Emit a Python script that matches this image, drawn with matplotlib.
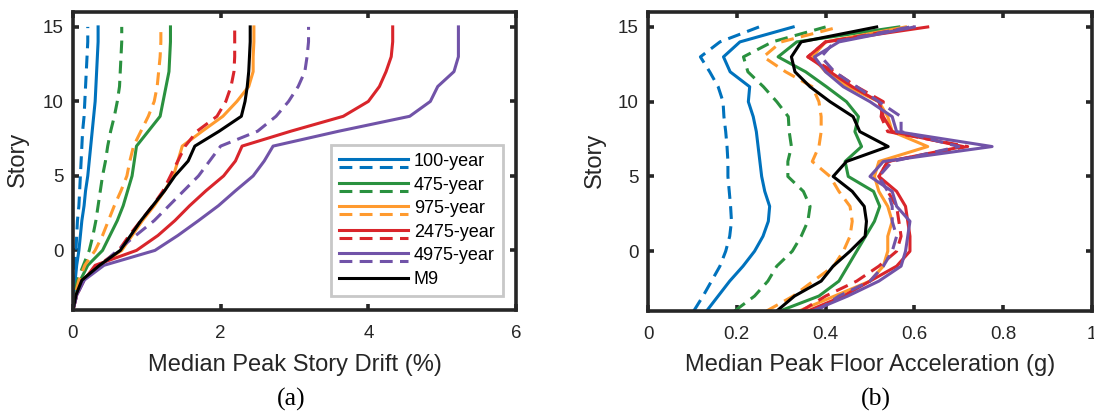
import numpy as np
import matplotlib
matplotlib.use("Agg")
import matplotlib.pyplot as plt
from matplotlib.lines import Line2D
from matplotlib.legend_handler import HandlerBase

# story levels (4 basement levels below grade)
stories = np.arange(-4, 16)

# (a) median peak story drift (%) - solid / dashed per hazard level
drift_100 = [0, 0.01, 0.03, 0.05, 0.08, 0.10, 0.12, 0.15, 0.17, 0.20, 0.22, 0.24, 0.26, 0.28, 0.30, 0.31, 0.32, 0.33, 0.34, 0.34]
drift_100_d = [0, 0.005, 0.01, 0.02, 0.04, 0.05, 0.06, 0.08, 0.09, 0.10, 0.11, 0.12, 0.13, 0.15, 0.16, 0.17, 0.18, 0.19, 0.20, 0.20]
drift_475 = [0, 0.04, 0.10, 0.20, 0.40, 0.50, 0.60, 0.68, 0.74, 0.80, 0.83, 0.86, 1.02, 1.18, 1.22, 1.26, 1.30, 1.31, 1.32, 1.32]
drift_475_d = [0, 0.02, 0.06, 0.14, 0.22, 0.27, 0.31, 0.34, 0.37, 0.40, 0.44, 0.47, 0.51, 0.56, 0.60, 0.63, 0.64, 0.65, 0.66, 0.66]
drift_975 = [0, 0.04, 0.12, 0.36, 0.66, 0.80, 0.94, 1.10, 1.24, 1.36, 1.42, 1.48, 1.75, 2.03, 2.22, 2.38, 2.44, 2.44, 2.45, 2.45]
drift_975_d = [0, 0.03, 0.08, 0.16, 0.30, 0.40, 0.48, 0.56, 0.65, 0.73, 0.77, 0.82, 0.92, 1.02, 1.10, 1.14, 1.16, 1.18, 1.19, 1.19]
drift_2475 = [0, 0.05, 0.15, 0.30, 0.86, 1.15, 1.38, 1.58, 1.80, 2.04, 2.20, 2.29, 2.95, 3.66, 4.00, 4.15, 4.24, 4.31, 4.33, 4.33]
drift_2475_d = [0, 0.05, 0.14, 0.35, 0.62, 0.76, 0.92, 1.08, 1.22, 1.32, 1.42, 1.52, 1.68, 1.95, 2.07, 2.14, 2.18, 2.19, 2.19, 2.19]
drift_4975 = [0, 0.05, 0.15, 0.42, 1.11, 1.42, 1.70, 1.97, 2.20, 2.44, 2.59, 2.71, 3.60, 4.56, 4.84, 4.94, 5.16, 5.22, 5.22, 5.22]
drift_4975_d = [0, 0.05, 0.15, 0.38, 0.60, 0.85, 1.10, 1.30, 1.50, 1.70, 1.85, 2.00, 2.50, 2.75, 2.92, 3.05, 3.14, 3.17, 3.19, 3.19]
drift_m9 = [0, 0.04, 0.12, 0.36, 0.64, 0.78, 0.92, 1.08, 1.24, 1.38, 1.56, 1.65, 1.98, 2.28, 2.33, 2.36, 2.38, 2.39, 2.40, 2.40]

# (b) median peak floor acceleration (g)
pfa_100 = [0.132, 0.158, 0.184, 0.214, 0.240, 0.259, 0.271, 0.274, 0.263, 0.256, 0.252, 0.248, 0.244, 0.237, 0.226, 0.229, 0.185, 0.170, 0.207, 0.327]
pfa_100_d = [0.103, 0.124, 0.143, 0.162, 0.175, 0.184, 0.188, 0.186, 0.183, 0.180, 0.180, 0.178, 0.175, 0.171, 0.169, 0.158, 0.139, 0.118, 0.162, 0.250]
pfa_475 = [0.297, 0.385, 0.430, 0.450, 0.470, 0.490, 0.510, 0.522, 0.508, 0.451, 0.444, 0.481, 0.466, 0.474, 0.447, 0.402, 0.355, 0.293, 0.335, 0.565]
pfa_475_d = [0.195, 0.240, 0.270, 0.290, 0.325, 0.345, 0.360, 0.365, 0.350, 0.315, 0.315, 0.323, 0.318, 0.316, 0.290, 0.260, 0.225, 0.215, 0.280, 0.400]
pfa_975 = [0.340, 0.420, 0.500, 0.530, 0.540, 0.540, 0.550, 0.540, 0.520, 0.510, 0.520, 0.630, 0.550, 0.540, 0.520, 0.450, 0.400, 0.370, 0.400, 0.580]
pfa_975_d = [0.267, 0.327, 0.372, 0.418, 0.440, 0.455, 0.460, 0.455, 0.430, 0.410, 0.370, 0.385, 0.390, 0.390, 0.385, 0.370, 0.310, 0.260, 0.300, 0.430]
pfa_2475 = [0.360, 0.440, 0.500, 0.560, 0.590, 0.590, 0.585, 0.580, 0.560, 0.520, 0.540, 0.710, 0.550, 0.530, 0.520, 0.460, 0.410, 0.360, 0.400, 0.630]
pfa_2475_d = [0.345, 0.400, 0.470, 0.520, 0.560, 0.570, 0.565, 0.560, 0.540, 0.520, 0.540, 0.720, 0.540, 0.525, 0.530, 0.470, 0.420, 0.360, 0.400, 0.600]
pfa_4975 = [0.370, 0.450, 0.520, 0.570, 0.580, 0.585, 0.590, 0.560, 0.550, 0.500, 0.530, 0.775, 0.560, 0.550, 0.500, 0.440, 0.400, 0.375, 0.430, 0.600]
pfa_4975_d = [0.380, 0.430, 0.500, 0.530, 0.550, 0.560, 0.550, 0.550, 0.540, 0.520, 0.550, 0.700, 0.570, 0.570, 0.520, 0.470, 0.420, 0.390, 0.420, 0.590]
pfa_m9 = [0.290, 0.330, 0.390, 0.417, 0.455, 0.489, 0.492, 0.487, 0.460, 0.417, 0.447, 0.541, 0.477, 0.462, 0.410, 0.365, 0.331, 0.323, 0.345, 0.515]

labels = ["100-year", "475-year", "975-year", "2475-year", "4975-year"]
colors = ["#0072BD", "#2A913F", "#FF9A2E", "#D9252B", "#7153A8"]

drift_solid = [drift_100, drift_475, drift_975, drift_2475, drift_4975]
drift_dash = [drift_100_d, drift_475_d, drift_975_d, drift_2475_d, drift_4975_d]
pfa_solid = [pfa_100, pfa_475, pfa_975, pfa_2475, pfa_4975]
pfa_dash = [pfa_100_d, pfa_475_d, pfa_975_d, pfa_2475_d, pfa_4975_d]

LW = 2.2
DASH = (4.2, 2.4)

plt.rcParams["font.family"] = ["Liberation Sans", "DejaVu Sans"]


class SolidDashHandler(HandlerBase):
    # solid line on top, dashed line underneath, same colour
    def create_artists(self, legend, orig_handle, xdescent, ydescent, width, height, fontsize, trans):
        c = orig_handle[0].get_color()
        y1 = height * 0.5 - ydescent + 0.5
        y2 = y1 - 5.6
        l1 = Line2D([-xdescent, width - xdescent], [y1, y1], color=c, lw=LW)
        l2 = Line2D([-xdescent, width - xdescent], [y2, y2], color=c, lw=LW, dashes=DASH)
        l1.set_transform(trans)
        l2.set_transform(trans)
        return [l1, l2]


def style_axes(ax):
    for s in ax.spines.values():
        s.set_linewidth(2.6)
        s.set_color("#262626")
    ax.tick_params(direction="in", length=4, width=2.6, color="#262626",
                   labelsize=13.5, top=True, right=True, labelcolor="#262626")
    ax.tick_params(axis="x", pad=11)
    ax.tick_params(axis="y", pad=7)
    ax.set_ylim(-4, 16)
    ax.set_yticks([0, 5, 10, 15])


fig = plt.figure(figsize=(10.94, 4.12), dpi=100)
ax1 = fig.add_axes([73 / 1094, 1 - 310 / 412, 443 / 1094, 298 / 412])
ax2 = fig.add_axes([648 / 1094, 1 - 311 / 412, 444 / 1094, 299 / 412])

# (a) drift
handles = []
for c, s, d, lab in zip(colors, drift_solid, drift_dash, labels):
    h1, = ax1.plot(s, stories, color=c, lw=LW)
    h2, = ax1.plot(d, stories, color=c, lw=LW, dashes=DASH)
    handles.append((h1, h2))
hm9, = ax1.plot(drift_m9, stories, color="black", lw=LW)
style_axes(ax1)
ax1.set_xlim(0, 6)
ax1.set_xticks([0, 2, 4, 6])
ax1.set_xlabel("Median Peak Story Drift (%)", fontsize=17, va="center", color="#262626")
ax1.xaxis.set_label_coords(0.5, (310 - 365) / 298)
ax1.set_ylabel("Story", fontsize=17, va="center", color="#262626")
ax1.yaxis.set_label_coords((18 - 73) / 443, 0.505)

leg = ax1.legend(handles + [hm9], labels + ["M9"],
                 handler_map={tuple: SolidDashHandler()},
                 loc="lower left", bbox_to_anchor=(0.582, 0.047),
                 fontsize=13, handlelength=3.8, handletextpad=0.35,
                 labelspacing=0.36, borderpad=0.45, borderaxespad=0,
                 fancybox=False, framealpha=1)
leg.get_frame().set_edgecolor("#C8C8C8")
leg.get_frame().set_linewidth(2.0)

# (b) floor acceleration
for c, s, d in zip(colors, pfa_solid, pfa_dash):
    ax2.plot(s, stories, color=c, lw=LW)
    ax2.plot(d, stories, color=c, lw=LW, dashes=DASH)
ax2.plot(pfa_m9, stories, color="black", lw=LW)
style_axes(ax2)
ax2.set_xlim(0, 1)
ax2.set_xticks([0, 0.2, 0.4, 0.6, 0.8, 1])
ax2.set_xticklabels(["0", "0.2", "0.4", "0.6", "0.8", "1"])
ax2.set_xlabel("Median Peak Floor Acceleration (g)", fontsize=17, va="center", color="#262626")
ax2.xaxis.set_label_coords(0.5, (311 - 365) / 299)
ax2.set_ylabel("Story", fontsize=17, va="center", color="#262626")
ax2.yaxis.set_label_coords((595 - 648) / 444, 0.505)

fig.text(291 / 1094, 1 - 399 / 412, "(a)", ha="center", va="center", fontsize=18.5, family="Liberation Serif")
fig.text(876 / 1094, 1 - 399 / 412, "(b)", ha="center", va="center", fontsize=18.5, family="Liberation Serif")

fig.savefig("out.png", dpi=100)
